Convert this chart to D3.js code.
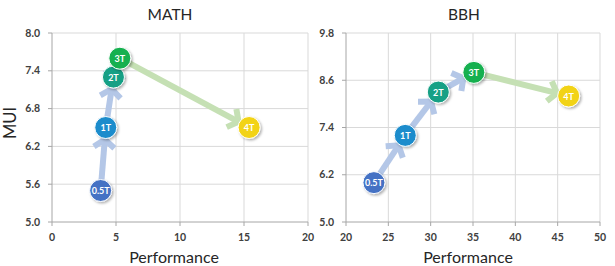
<!DOCTYPE html>
<html>
<head>
<meta charset="UTF-8">
<script src="https://d3js.org/d3.v7.min.js"></script>
<style>
  body { margin: 0; background: #fff; }
  text { font-family: Lato, "Open Sans", sans-serif; }
  .grid line { stroke: #d9d9d9; stroke-width: 1; }
  .tick-label { fill: #404040; font-size: 10.5px; font-weight: bold; }
  .title { fill: #262626; font-size: 15.5px; }
  .axis-title { fill: #262626; font-size: 16px; }
  .node text { fill: #fff; font-size: 9px; font-weight: bold; text-anchor: middle; dominant-baseline: central; }
</style>
</head>
<body>
<svg width="615" height="266"></svg>
<script>
// data
const stages = ["0.5T", "1T", "2T", "3T", "4T"];
const stageColors = ["#4472c4", "#1a8ccc", "#16a085", "#13b04f", "#f2d313"];
const mathPerf = [3.8, 4.2, 4.8, 5.3, 15.4];
const mathMui = [5.5, 6.5, 7.3, 7.6, 6.5];
const bbhPerf = [23.3, 27.0, 30.9, 35.1, 46.3];
const bbhMui = [6.0, 7.2, 8.3, 8.8, 8.2];
const mathXTicks = [0, 5, 10, 15, 20];
const mathYTicks = [5.0, 5.6, 6.2, 6.8, 7.4, 8.0];
const bbhXTicks = [20, 25, 30, 35, 40, 45, 50];
const bbhYTicks = [5.0, 6.2, 7.4, 8.6, 9.8];

const svg = d3.select("svg");
const defs = svg.append("defs");
defs.append("filter").attr("id", "shadow")
  .attr("x", "-50%").attr("y", "-50%").attr("width", "200%").attr("height", "200%")
  .append("feDropShadow")
  .attr("dx", 1.5).attr("dy", 1.5).attr("stdDeviation", 1.2)
  .attr("flood-color", "#000").attr("flood-opacity", 0.3);

const R = 11;

function panel(opt) {
  const x = d3.scaleLinear().domain(d3.extent(opt.xTicks)).range([opt.left, opt.right]);
  const y = d3.scaleLinear().domain(d3.extent(opt.yTicks)).range([222, 33]);
  const g = svg.append("g");

  // grid
  const grid = g.append("g").attr("class", "grid");
  grid.selectAll(".v").data(opt.xTicks.slice(1)).enter().append("line")
    .attr("x1", d => x(d)).attr("x2", d => x(d)).attr("y1", y.range()[1]).attr("y2", y.range()[0]);
  grid.selectAll(".h").data(opt.yTicks.slice(1)).enter().append("line")
    .attr("x1", opt.left).attr("x2", opt.right).attr("y1", d => y(d)).attr("y2", d => y(d));

  // axes
  const axisColor = "#a6a6a6";
  g.append("line").attr("x1", opt.left).attr("x2", opt.left).attr("y1", 33).attr("y2", 222).attr("stroke", axisColor);
  g.append("line").attr("x1", opt.left).attr("x2", opt.right).attr("y1", 222).attr("y2", 222).attr("stroke", axisColor);
  g.selectAll(".yt").data(opt.yTicks).enter().append("line")
    .attr("x1", opt.left - 4).attr("x2", opt.left).attr("y1", d => y(d)).attr("y2", d => y(d)).attr("stroke", axisColor);
  g.selectAll(".xt").data(opt.xTicks).enter().append("line")
    .attr("x1", d => x(d)).attr("x2", d => x(d)).attr("y1", 222).attr("y2", 226).attr("stroke", axisColor);

  g.selectAll(".yl").data(opt.yTicks).enter().append("text")
    .attr("class", "tick-label").attr("x", opt.left - 12).attr("y", d => y(d)).attr("dy", "0.35em")
    .attr("text-anchor", "end").text(d => d.toFixed(1));
  g.selectAll(".xl").data(opt.xTicks).enter().append("text")
    .attr("class", "tick-label").attr("x", d => x(d)).attr("y", 241)
    .attr("text-anchor", "middle").text(d => d);

  g.append("text").attr("class", "title").attr("x", opt.titleX).attr("y", 20)
    .attr("text-anchor", "middle").text(opt.title);
  g.append("text").attr("class", "axis-title").attr("x", opt.titleX + 4).attr("y", 263)
    .attr("text-anchor", "middle").text("Performance");

  // arrows
  const pts = opt.xs.map((v, i) => [x(v), y(opt.ys[i])]);
  const arrows = g.append("g");
  for (let i = 0; i < pts.length - 1; i++) {
    const [x0, y0] = pts[i], [x1, y1] = pts[i + 1];
    const col = i < 3 ? "#b4c7e7" : "#c5e0b4";
    const dx = x1 - x0, dy = y1 - y0, len = Math.hypot(dx, dy);
    const ux = dx / len, uy = dy / len;
    const tx = x1 - ux * (R + 1), ty = y1 - uy * (R + 1);
    const a = Math.PI * 0.29, L = 13;
    const ang = Math.atan2(uy, ux);
    const p1 = [tx - L * Math.cos(ang - a), ty - L * Math.sin(ang - a)];
    const p2 = [tx - L * Math.cos(ang + a), ty - L * Math.sin(ang + a)];
    arrows.append("line").attr("x1", x0).attr("y1", y0).attr("x2", tx - ux * 2).attr("y2", ty - uy * 2)
      .attr("stroke", col).attr("stroke-width", 6);
    arrows.append("path").attr("d", d3.line()([p1, [tx, ty], p2]))
      .attr("fill", "none").attr("stroke", col).attr("stroke-width", 6)
      .attr("stroke-linejoin", "miter").attr("stroke-linecap", "butt");
  }

  const node = g.selectAll(".node").data(pts).enter().append("g").attr("class", "node")
    .attr("transform", d => `translate(${d[0]},${d[1]})`);
  node.append("circle").attr("r", R).attr("fill", (d, i) => stageColors[i])
    .attr("stroke", "#fff").attr("stroke-width", 1).attr("filter", "url(#shadow)");
  node.append("text").text((d, i) => stages[i]);
}

panel({ title: "MATH", titleX: 170, left: 52, right: 308, xTicks: mathXTicks, yTicks: mathYTicks, xs: mathPerf, ys: mathMui });
panel({ title: "BBH", titleX: 464, left: 346, right: 600, xTicks: bbhXTicks, yTicks: bbhYTicks, xs: bbhPerf, ys: bbhMui });

svg.append("text").attr("class", "axis-title").style("font-size", "16.5px")
  .attr("transform", "translate(16,123) rotate(-90)").attr("text-anchor", "middle").text("MUI");
</script>
</body>
</html>
